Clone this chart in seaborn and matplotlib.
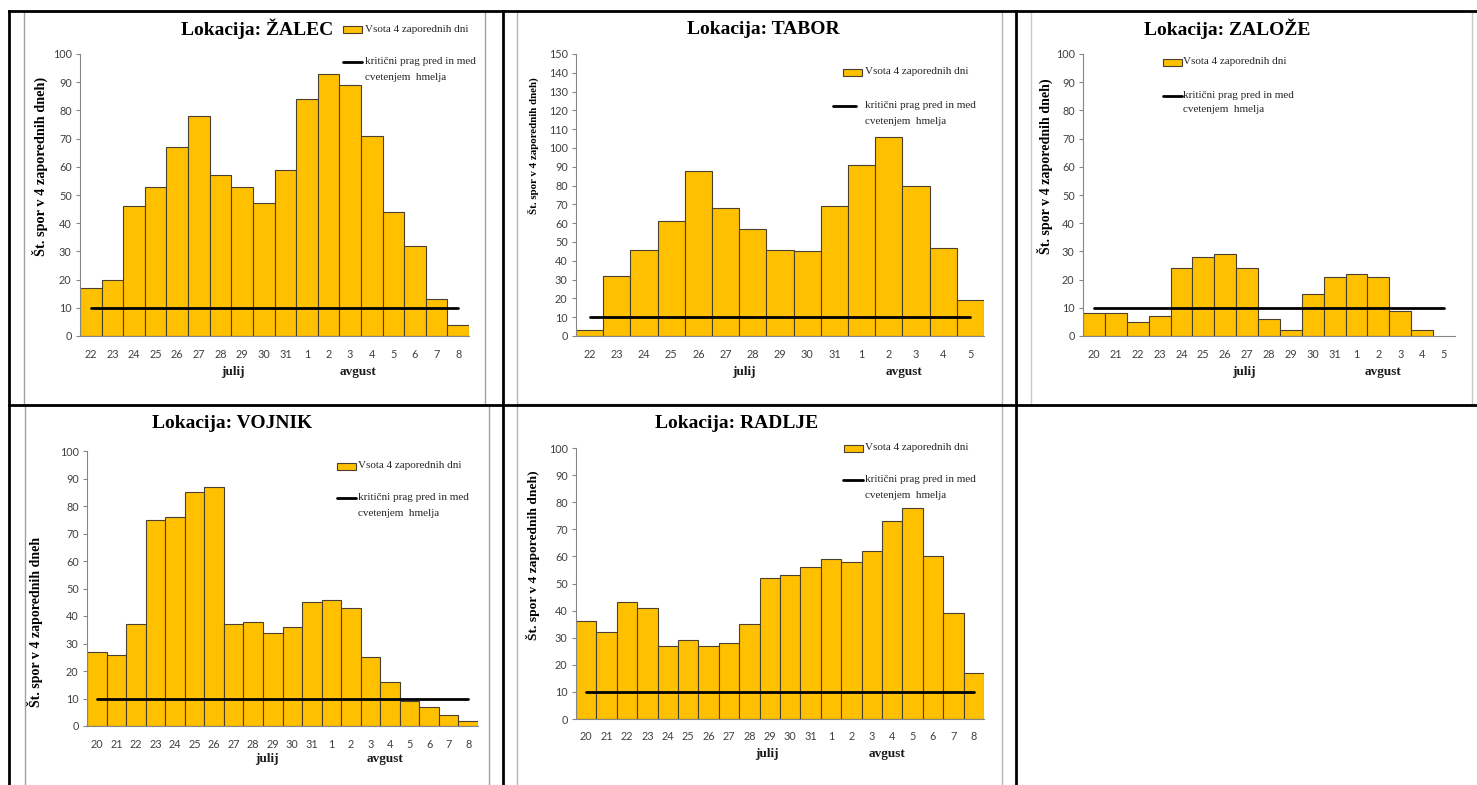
import numpy as np
import pandas as pd
import matplotlib
matplotlib.use("Agg")
import matplotlib.pyplot as plt
from matplotlib.lines import Line2D
from matplotlib.patches import Rectangle
import seaborn as sns

# ---------------- data ----------------
zalec_days = ["22", "23", "24", "25", "26", "27", "28", "29", "30", "31",
              "1", "2", "3", "4", "5", "6", "7", "8"]
zalec_vals = [17, 20, 46, 53, 67, 78, 57, 53, 47, 59, 84, 93, 89, 71, 44, 32, 13, 4]

tabor_days = ["22", "23", "24", "25", "26", "27", "28", "29", "30", "31",
              "1", "2", "3", "4", "5"]
tabor_vals = [3, 32, 46, 61, 88, 68, 57, 46, 45, 69, 91, 106, 80, 47, 19]

zaloze_days = ["20", "21", "22", "23", "24", "25", "26", "27", "28", "29", "30", "31",
               "1", "2", "3", "4", "5"]
zaloze_vals = [8, 8, 5, 7, 24, 28, 29, 24, 6, 2, 15, 21, 22, 21, 9, 2, np.nan]

vojnik_days = ["20", "21", "22", "23", "24", "25", "26", "27", "28", "29", "30", "31",
               "1", "2", "3", "4", "5", "6", "7", "8"]
vojnik_vals = [27, 26, 37, 75, 76, 85, 87, 37, 38, 34, 36, 45, 46, 43, 25, 16, 9, 7, 4, 2]

radlje_days = ["20", "21", "22", "23", "24", "25", "26", "27", "28", "29", "30", "31",
               "1", "2", "3", "4", "5", "6", "7", "8"]
radlje_vals = [36, 32, 43, 41, 27, 29, 27, 28, 35, 52, 53, 56, 59, 58, 62, 73, 78, 60, 39, 17]

THRESHOLD = 10
LEGEND_BAR = "Vsota 4 zaporednih dni"
LEGEND_LINE_1 = "kritični prag pred in med"
LEGEND_LINE_2 = "cvetenjem  hmelja"
YLABEL = "Št. spor v 4 zaporednih dneh)"
YLABEL_VOJNIK = "Št. spor v 4 zaporednih dneh"

# ---------------- style ----------------
sns.set_theme(style="white")
plt.rcParams["font.family"] = ["Liberation Serif", "DejaVu Serif"]

BAR = "#FFC000"
EDGE = "#4a4030"
AXC = "#868686"
TXT = "#404040"

W, H = 1477, 785
fig = plt.figure(figsize=(W / 100, H / 100), dpi=100)
fig.patch.set_facecolor("white")


def fx(x):
    return x / W


def fy(y):
    return 1 - y / H


panels = [
    dict(title="Lokacija: ŽALEC", days=zalec_days, vals=zalec_vals, ymax=100,
         box=(80, 54, 469, 336), tpos=(257, 29), ylab=YLABEL, ylpos=(40, 166), ylsize=10.3,
         months=(6.58, 12.37), moff=36,
         leg=dict(px=343, py=29, lx=(343, 362), ly=62, tx=365, ly2=77),
         frame=(24, 11, 485, 405), fcol="#a0a0a0"),
    dict(title="Lokacija: TABOR", days=tabor_days, vals=tabor_vals, ymax=150,
         box=(576, 54, 984, 336), tpos=(763, 29), ylab=YLABEL, ylpos=(533, 146), ylsize=7.8,
         months=(5.68, 11.55), moff=36,
         leg=dict(px=843, py=72, lx=(833, 856), ly=106, tx=865, ly2=121),
         frame=(517, 11, 1002, 404), fcol="#b4b4b4"),
    dict(title="Lokacija: ZALOŽE", days=zaloze_days, vals=zaloze_vals, ymax=100,
         box=(1083, 54, 1455, 336), tpos=(1227, 29), ylab=YLABEL, ylpos=(1045, 166), ylsize=10.1,
         months=(6.86, 13.21), moff=36,
         leg=dict(px=1163, py=62, lx=(1163, 1182), ly=96, tx=1183, ly2=110),
         frame=(1031, 11, 1472, 405), fcol="#c8c8c8"),
    dict(title="Lokacija: VOJNIK", days=vojnik_days, vals=vojnik_vals, ymax=100,
         box=(87, 451, 478, 726), tpos=(232, 424), ylab=YLABEL_VOJNIK, ylpos=(35, 622), ylsize=10.0,
         months=(8.7, 14.74), moff=33,
         leg=dict(px=337, py=466, lx=(337, 356), ly=498, tx=358, ly2=513),
         frame=(25, 405, 489, 790), fcol="#a0a0a0"),
    dict(title="Lokacija: RADLJE", days=radlje_days, vals=radlje_vals, ymax=100,
         box=(576, 448, 984, 719), tpos=(737, 423), ylab=YLABEL, ylpos=(533, 555), ylsize=9.7,
         months=(8.86, 14.74), moff=35,
         leg=dict(px=844, py=448, lx=(843, 863), ly=480, tx=865, ly2=495),
         frame=(517, 405, 1002, 790), fcol="#b4b4b4"),
]

for p in panels:
    l, t, r, b = p["frame"]
    fig.add_artist(Rectangle((fx(l), fy(b)), (r - l) / W, (b - t) / H,
                             transform=fig.transFigure, fill=False,
                             edgecolor=p["fcol"], lw=1.0, zorder=0))

    l, t, r, b = p["box"]
    ax = fig.add_axes([fx(l), fy(b), (r - l) / W, (b - t) / H])
    ax.set_facecolor("none")
    days = p["days"]
    n = len(days)
    df = pd.DataFrame({"dan": days, "spore": p["vals"]})
    sns.barplot(data=df, x="dan", y="spore", order=days, color=BAR, saturation=1,
                width=1.0, edgecolor=EDGE, linewidth=0.8, errorbar=None, ax=ax)
    ax.plot(np.arange(n), [THRESHOLD] * n, color="black", lw=2.0, zorder=4)

    ax.set_xlim(-0.5, n - 0.5)
    ax.set_ylim(0, p["ymax"])
    ax.set_yticks(range(0, p["ymax"] + 1, 10))
    ax.set_xlabel("")
    ax.tick_params(axis="x", bottom=False, length=0, pad=9, labelsize=7.8, labelcolor=TXT)
    ax.tick_params(axis="y", left=True, length=3, width=0.8, color=AXC, direction="out",
                   pad=3, labelsize=7.8, labelcolor=TXT)
    for lab in ax.get_xticklabels() + ax.get_yticklabels():
        lab.set_fontfamily("Lato")
    for s in ("top", "right"):
        ax.spines[s].set_visible(False)
    for s in ("left", "bottom"):
        ax.spines[s].set_color(AXC)
        ax.spines[s].set_linewidth(0.8)

    ax.set_ylabel(p["ylab"], fontsize=p["ylsize"], fontweight="bold", color="black")
    ax.yaxis.set_label_coords(fx(p["ylpos"][0]), fy(p["ylpos"][1]), transform=fig.transFigure)
    ax.yaxis.label.set_va("center")

    fig.text(fx(p["tpos"][0]), fy(p["tpos"][1]), p["title"], ha="center", va="center",
             fontsize=14, fontweight="bold", color="black")

    for xm, txt in zip(p["months"], ("julij", "avgust")):
        ax.annotate(txt, xy=(xm, 0), xycoords=("data", "axes fraction"),
                    xytext=(0, -p["moff"]), textcoords="offset pixels",
                    ha="center", va="center", fontsize=9.5, fontweight="bold",
                    color="#1a1a1a", annotation_clip=False)

    lg = p["leg"]
    fig.add_artist(Rectangle((fx(lg["px"]), fy(lg["py"] + 3.5)), 19 / W, 7 / H,
                             transform=fig.transFigure, facecolor=BAR,
                             edgecolor=EDGE, lw=0.8))
    fig.add_artist(Line2D([fx(lg["lx"][0]), fx(lg["lx"][1])], [fy(lg["ly"]), fy(lg["ly"])],
                          transform=fig.transFigure, color="black", lw=2.0))
    fig.text(fx(lg["tx"]), fy(lg["py"]), LEGEND_BAR, ha="left", va="center",
             fontsize=8, color="#262626")
    fig.text(fx(lg["tx"]), fy(lg["ly"]), LEGEND_LINE_1, ha="left", va="center",
             fontsize=8, color="#262626")
    fig.text(fx(lg["tx"]), fy(lg["ly2"]), LEGEND_LINE_2, ha="left", va="center",
             fontsize=8, color="#262626")

# table grid lines
grid_lines = [
    ((9, 11), (1477, 11)),
    ((9, 405), (1477, 405)),
    ((9, 11), (9, 785)),
    ((503, 11), (503, 785)),
    ((1016, 11), (1016, 785)),
]
for (x0, y0), (x1, y1) in grid_lines:
    fig.add_artist(Line2D([fx(x0), fx(x1)], [fy(y0), fy(y1)], transform=fig.transFigure,
                          color="black", lw=2.0, zorder=10, solid_capstyle="projecting"))

fig.savefig("out.png", dpi=100)
